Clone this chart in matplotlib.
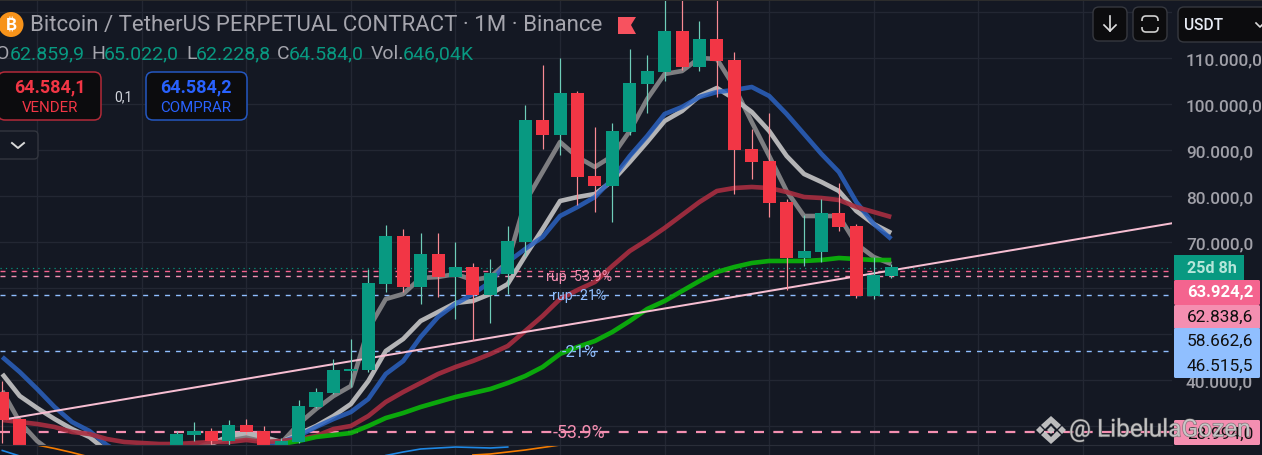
"""BTC/USDT perpetual monthly candles with EMAs, trend line and price labels."""

import matplotlib

matplotlib.use("Agg")
import matplotlib.patheffects as pe
import matplotlib.pyplot as plt
import numpy as np
from matplotlib.patches import Circle, FancyBboxPatch, Polygon, Rectangle

# candle data, values
MONTHS = [0, 1] + list(range(10, 52))
OPEN = [37391, 31522, 24000, 28044, 28913, 26739, 30217, 28913, 25000, 26522, 34130, 37174,
        41957, 42174, 60870, 71304, 60217, 67391, 62391, 64565, 58478, 63043, 70000, 96522,
        93261, 102391, 84348, 82174, 93913, 104348, 106957, 115870, 108043, 114130, 109565,
        90217, 87609, 78696, 66522, 67826, 76304, 73478, 58261, 62609]
HIGH = [39783, 31739, 28913, 30870, 29565, 31304, 31522, 30000, 27391, 35652, 38261, 44565,
        48913, 64130, 73696, 72826, 71957, 71957, 70000, 65435, 66304, 73478, 99783, 108478,
        110000, 102826, 95000, 95870, 111957, 110652, 123000, 123000, 118043, 123000, 111304,
        94565, 98043, 79348, 75870, 79348, 82826, 73913, 66739, 65217]
LOW = [26304, 23000, 23000, 26739, 25870, 25870, 28261, 24500, 24500, 26304, 33913, 36957,
       38478, 41739, 59130, 59130, 56522, 58043, 53261, 48696, 52391, 58696, 66957, 90217,
       88913, 78043, 76522, 74348, 93261, 98043, 104980, 107391, 107174, 101522, 80435,
       83696, 75435, 59565, 64783, 65652, 72391, 57826, 57609, 62174]
CLOSE = [31304, 24000, 28261, 28913, 26739, 30217, 28696, 25000, 26739, 34348, 37391, 42174,
         42391, 61087, 71304, 60217, 67391, 62391, 64565, 58478, 63261, 70217, 96522, 93261,
         102391, 84130, 82174, 94130, 104565, 107174, 115870, 108043, 114130, 109348, 90000,
         87391, 78478, 66522, 68043, 76304, 73261, 58261, 62826, 64565]

# moving averages, split where they run below the pane
FAST_LEFT = [37609, 30870, 26739, 23909]
FAST = [24999, 26522, 27174, 27609, 26957, 26304, 30435, 33696, 36522, 38696, 51087, 57609,
        58696, 62174, 62391, 63043, 61739, 62391, 65652, 78696, 85217, 91739, 88478, 86304,
        88696, 94130, 101087, 106522, 107174, 110000, 109783, 103696, 96087, 88696, 81087,
        75652, 75652, 75652, 69565, 66739, 65217]
MID_LEFT = [41304, 36522, 33913, 31522, 29348, 27609, 24565]
MID = [26087, 27826, 28478, 27609, 26522, 28261, 30000, 32174, 34783, 39783, 46304, 48913,
       52826, 54783, 56739, 57174, 58696, 60870, 66957, 72826, 78913, 79783, 80435, 83261,
       87391, 91739, 96304, 98478, 101739, 103478, 101087, 98261, 94130, 88696, 84783, 83043,
       81087, 76739, 73913, 71957]
BLUE_LEFT = [44998, 41739, 38043, 34130, 30870, 28913, 25870, 23696]
BLUE = [25652, 26522, 27826, 29783, 31522, 33044, 35870, 41304, 44130, 49348, 53696, 56522,
        58696, 61305, 65652, 68478, 71087, 75652, 77609, 79783, 83696, 88696, 93043, 97826,
        99348, 101522, 102609, 103044, 103696, 101739, 97826, 93478, 89130, 85217, 78696,
        73913, 70652]
MAROON = [31304, 30870, 30435, 29783, 28696, 28261, 27174, 26522, 26304, 26087, 26087, 26304,
          26522, 26522, 26957, 26522, 26739, 27174, 27826, 29348, 30000, 32174, 35218, 37391,
          39348, 41304, 42826, 44130, 45652, 47391, 50652, 53913, 57609, 59565, 61305, 64783,
          68043, 70435, 73043, 75870, 78696, 81087, 81739, 81957, 81739, 80870, 79783, 79565,
          79130, 77609, 76522, 75435]
GREEN = [26087, 26739, 27609, 28044, 28478, 30000, 31739, 32826, 34130, 35218, 36304, 37174,
         38044, 39348, 40870, 42826, 45652, 47174, 48478, 50435, 52826, 55435, 57174, 59348,
         61522, 63478, 64565, 65435, 65870, 65870, 65870, 66087, 66522, 66304, 66087, 66087]

TREND_X = [0.27, 67.2]
TREND_Y = [31522, 74130]

LEVEL_COUNTDOWN = 64380
LEVEL_RUP_539 = 63630
LEVEL_RUP_21 = 62545
LEVEL_RUP_BLUE = 58410
LEVEL_21 = 46300
LEVEL_539 = 28760

PRICE_TICKS = [30000, 40000, 50000, 60000, 70000, 80000, 90000, 100000, 110000, 120000]
# 30k, 50k, 60k and 120k sit behind the price labels and the USDT box
PRICE_TICK_LABELS = ["", "40.000,0", "", "", "70.000,0", "80.000,0", "90.000,0",
                     "100.000,0", "110.000,0", ""]

# lower pane oscillator
OSC_BLUE_X = [0, 1, 22, 23, 24, 25, 26, 27, 28, 29]
OSC_BLUE_Y = [4.5, -1, -0.5, 3, 6, 7, 8, 7.5, 7, 8]
OSC_BLUE_SPLIT = 2
OSC_ORANGE_X = [2, 3, 4, 5, 27, 28, 29, 30, 31, 32]
OSC_ORANGE_Y = [10, 6.5, 2.5, -2, 0, 1, 3, 5, 7.5, 10]
OSC_ORANGE_SPLIT = 4

BG = "#141823"
GRID = "#232733"
UP = "#089981"
DOWN = "#f23645"
UP_WICK = "#6fcdb9"
DOWN_WICK = "#f98a93"
PINK = "#f48fb1"
HOT_PINK = "#f4648f"
LIGHT_BLUE = "#90bfff"
FONT = "Roboto"
W, H = 1262, 456
PX = 72 / 100

plt.rcParams["font.family"] = [FONT, "DejaVu Sans"]

fig = plt.figure(figsize=(W / 100, H / 100), dpi=100, facecolor=BG)
ax = fig.add_axes([0, (H - 446) / H, 1172 / W, 444 / H], facecolor=BG)
osc = fig.add_axes([0, 0, 1172 / W, (H - 446) / H], facecolor=BG)
ui = fig.add_axes([0, 0, 1, 1], zorder=10)
ui.patch.set_alpha(0)
ui.set_xlim(0, W)
ui.set_ylim(H, 0)
ui.axis("off")

x_limits = (-0.132, 67.11)
grid_months = np.arange(2, 68, 6)

ax.set_xlim(x_limits)
ax.set_ylim(25870, 122391)
ax.set_xticks(grid_months)
ax.set_xticklabels([])
ax.set_yticks(PRICE_TICKS)
ax.set_yticklabels(PRICE_TICK_LABELS, color="#a0a0a8", fontsize=12.4, fontweight="medium")
ax.yaxis.tick_right()
ax.tick_params(length=0, pad=10)
ax.grid(color=GRID, lw=1 * PX * 1.3)
ax.set_axisbelow(True)
for spine in ax.spines.values():
    spine.set_visible(False)

# level lines
dash = (0, (3.6, 4.3))
ax.axhline(LEVEL_COUNTDOWN, color=UP, lw=1 * PX * 1.2, ls=(0, (1, 3.5)), zorder=1.5)
ax.axhline(LEVEL_RUP_539, color=HOT_PINK, lw=1.0, ls=dash, zorder=1.5)
ax.axhline(LEVEL_RUP_21, color=PINK, lw=1.0, ls=dash, zorder=1.5)
ax.axhline(LEVEL_RUP_BLUE, color=LIGHT_BLUE, lw=1.0, ls=dash, zorder=1.5)
ax.axhline(LEVEL_21, color=LIGHT_BLUE, lw=1.0, ls=dash, zorder=1.5)
ax.axhline(LEVEL_539, color=PINK, lw=1.6, ls=(0, (4.5, 4.2)), zorder=1.5)

# moving averages
line_style = dict(lw=4.6 * PX, solid_joinstyle="round", solid_capstyle="butt")
ax.plot(range(4), FAST_LEFT, color="#7e7e81", zorder=2, **line_style)
ax.plot(range(11, 52), FAST, color="#7e7e81", zorder=2, **line_style)
ax.plot(range(7), MID_LEFT, color="#b4b4b6", zorder=2.1, **line_style)
ax.plot(range(12, 52), MID, color="#b4b4b6", zorder=2.1, **line_style)
ax.plot(range(8), BLUE_LEFT, color="#2b62c0", alpha=0.85, zorder=2.2, **line_style)
ax.plot(range(15, 52), BLUE, color="#2b62c0", alpha=0.85, zorder=2.2, **line_style)
ax.plot(range(52), MAROON, color="#a82e40", alpha=0.9, zorder=2.3, **line_style)
ax.plot(range(16, 52), GREEN, color="#0bb00b", alpha=0.95, zorder=2.4, **line_style)
ax.plot(TREND_X, TREND_Y, color="#f7bed2", lw=2 * PX, zorder=2.5)

# candles
months = np.array(MONTHS)
opens, highs, lows, closes = map(np.array, (OPEN, HIGH, LOW, CLOSE))
rising = closes >= opens
ax.vlines(months[rising], lows[rising], highs[rising], color=UP_WICK, lw=1 * PX * 1.2, zorder=3)
ax.vlines(months[~rising], lows[~rising], highs[~rising], color=DOWN_WICK, lw=1 * PX * 1.2, zorder=3)
ax.bar(months[rising], (closes - opens)[rising], bottom=opens[rising], width=0.75,
       color=UP, lw=0, zorder=3.1)
ax.bar(months[~rising], (closes - opens)[~rising], bottom=opens[~rising], width=0.75,
       color=DOWN, lw=0, zorder=3.1)

label_x = 33.1
ax.text(label_x, LEVEL_RUP_21, "rup -53.9%", color=PINK, fontsize=10.2, ha="center",
        va="center", zorder=4)
ax.text(label_x, LEVEL_RUP_BLUE, "rup -21%", color=LIGHT_BLUE, fontsize=10.2, ha="center",
        va="center", zorder=4)
ax.text(label_x, LEVEL_21, "-21%", color=LIGHT_BLUE, fontsize=11.8, ha="center",
        va="center", zorder=4)
ax.text(label_x, LEVEL_539, "-53.9%", color=PINK, fontsize=12.8, ha="center",
        va="center", zorder=4)

# lower pane
osc.set_xlim(x_limits)
osc.set_ylim(0, 10)
osc.set_xticks(grid_months)
osc.set_xticklabels([])
osc.set_yticks([])
osc.tick_params(length=0)
osc.grid(axis="x", color=GRID, lw=1 * PX * 1.3)
osc.set_axisbelow(True)
for name, spine in osc.spines.items():
    spine.set_visible(name == "top")
osc.spines["top"].set_color("#2a2e39")
osc.plot(OSC_BLUE_X[:OSC_BLUE_SPLIT], OSC_BLUE_Y[:OSC_BLUE_SPLIT], color="#1e88e5", lw=1.2)
osc.plot(OSC_BLUE_X[OSC_BLUE_SPLIT:], OSC_BLUE_Y[OSC_BLUE_SPLIT:], color="#1e88e5", lw=1.2)
osc.plot(OSC_ORANGE_X[:OSC_ORANGE_SPLIT], OSC_ORANGE_Y[:OSC_ORANGE_SPLIT], color="#f57c00", lw=1.2)
osc.plot(OSC_ORANGE_X[OSC_ORANGE_SPLIT:], OSC_ORANGE_Y[OSC_ORANGE_SPLIT:], color="#f57c00", lw=1.2)


def box(x0, y0, x1, y1, face, edge=None, radius=3.0, zorder=2, lw=1.0):
    patch = FancyBboxPatch((x0, y0), x1 - x0, y1 - y0,
                           boxstyle=f"round,pad=0,rounding_size={radius}",
                           facecolor=face, edgecolor=edge or "none", lw=lw, zorder=zorder)
    ui.add_patch(patch)


def label(x, y, text, color, size, ha="left", weight="normal", zorder=5, alpha=None):
    return ui.text(x, y, text, color=color, fontsize=size, ha=ha, va="center",
                   fontweight=weight, zorder=zorder, alpha=alpha)


# header
ui.add_patch(Rectangle((0, 0), W, 2, facecolor="#2c2c2c", lw=0))
ui.add_patch(Circle((11, 25.5), 12.5, facecolor="#f7931a", lw=0))
ui.text(11, 25.5, "₿", color="white", fontsize=12, ha="center", va="center", fontweight="bold",
        family=["Inter", "Noto Sans", "Open Sans", "Lato", "DejaVu Sans"], zorder=5)
label(30, 26, "Bitcoin / TetherUS PERPETUAL CONTRACT · 1M · Binance", "#a5a5ad", 16)
ui.add_patch(Polygon([(618, 18), (636, 18), (631, 26), (636, 35), (618, 35)], facecolor="#f7525f", lw=0))

for x, text, color in [(-4, "O", "#a5a5ad"), (10, "62.859,9", UP), (91, "H", "#a5a5ad"),
                       (104, "65.022,0", UP), (186, "L", "#a5a5ad"), (196, "62.228,8", UP),
                       (277, "C", "#a5a5ad"), (289, "64.584,0", UP), (371, "Vol.", "#a5a5ad"),
                       (403, "646,04K", UP)]:
    label(x, 54, text, color, 14)

# order buttons
box(-2, 73, 101, 121, "#0c0c0e", edge="#b22a38", radius=7, lw=1.1)
label(50, 87, "64.584,1", DOWN, 13, ha="center", weight="bold")
label(50, 108, "VENDER", DOWN, 10.8, ha="center")
label(123, 97, "0,1", "#d1d4dc", 10, ha="center")
box(146, 73, 247, 121, "#0c0c0e", edge="#2457c0", radius=7, lw=1.1)
label(196, 87, "64.584,2", "#2962ff", 13, ha="center", weight="bold")
label(196, 108, "COMPRAR", "#2962ff", 10.8, ha="center")
box(-4, 132, 38, 160, "#141823", edge="#33363f", radius=4)
ui.plot([12, 18, 24], [144, 149, 144], color="#d8d8d8", lw=1.4, zorder=5)

# top right controls
box(1093, 8, 1127, 42, "#0c0c0e", edge="#36383f", radius=6)
ui.plot([1110, 1110], [17, 32], color="#e0e0e0", lw=1.2, zorder=5)
ui.plot([1104, 1110, 1116], [26, 32, 26], color="#e0e0e0", lw=1.2, zorder=5)
box(1133, 8, 1167, 42, "#0c0c0e", edge="#36383f", radius=6)
box(1142, 17, 1158, 33, "none", edge="#d0d0d0", radius=4, zorder=4, lw=1.2)
ui.add_patch(Rectangle((1140, 22), 20, 6, facecolor="#0c0c0e", lw=0, zorder=4.5))
box(1178, 8, 1270, 43, "#0c0c0e", edge="#36383f", radius=6)
label(1184, 25, "USDT", "#e8ecf5", 11.2, weight="medium")
ui.plot([1256, 1260, 1264], [24, 28, 24], color="#d8d8d8", lw=1.2, zorder=5)

# price labels
ui.add_patch(Rectangle((1174, 256), 70, 25, facecolor=UP, lw=0, zorder=2))
label(1187, 269, "25d 8h", "#b5e6da", 11.6, weight="bold")
box(1174, 281, 1260, 306, HOT_PINK, radius=1.5)
label(1187, 293, "63.924,2", "white", 12, weight="bold")
box(1174, 306, 1260, 330, PINK, radius=1.5, zorder=2.1)
label(1187, 317.5, "62.838,6", "#101010", 12.4)
box(1174, 329, 1260, 379, LIGHT_BLUE, radius=1.5, zorder=2.2)
label(1187, 341, "58.662,6", "#101010", 12.4)
label(1187, 366, "46.515,5", "#101010", 12.4)
box(1174, 421, 1260, 446, PINK, radius=1.5)
label(1187, 434, "28.994,0", "#101010", 12.4)

# watermark
mark = "#cfcfcf"
for points in ([(1051, 417), (1061, 426), (1057, 430), (1051, 424), (1045, 430), (1041, 426)],
               [(1051, 445), (1061, 436), (1057, 432), (1051, 438), (1045, 432), (1041, 436)],
               [(1051, 427), (1055, 431), (1051, 435), (1047, 431)],
               [(1040, 427), (1044, 431), (1040, 435), (1036, 431)],
               [(1062, 427), (1066, 431), (1062, 435), (1058, 431)]):
    ui.add_patch(Polygon(points, facecolor=mark, alpha=0.9, lw=0, zorder=6))
watermark = label(1069, 431, "@ LibelulaGozen", "#cccccc", 17.6, zorder=6, alpha=0.85)
watermark.set_path_effects([pe.withStroke(linewidth=0.9, foreground="#5a5a5a", alpha=0.7)])

fig.savefig("out.png", dpi=100, facecolor=BG)
